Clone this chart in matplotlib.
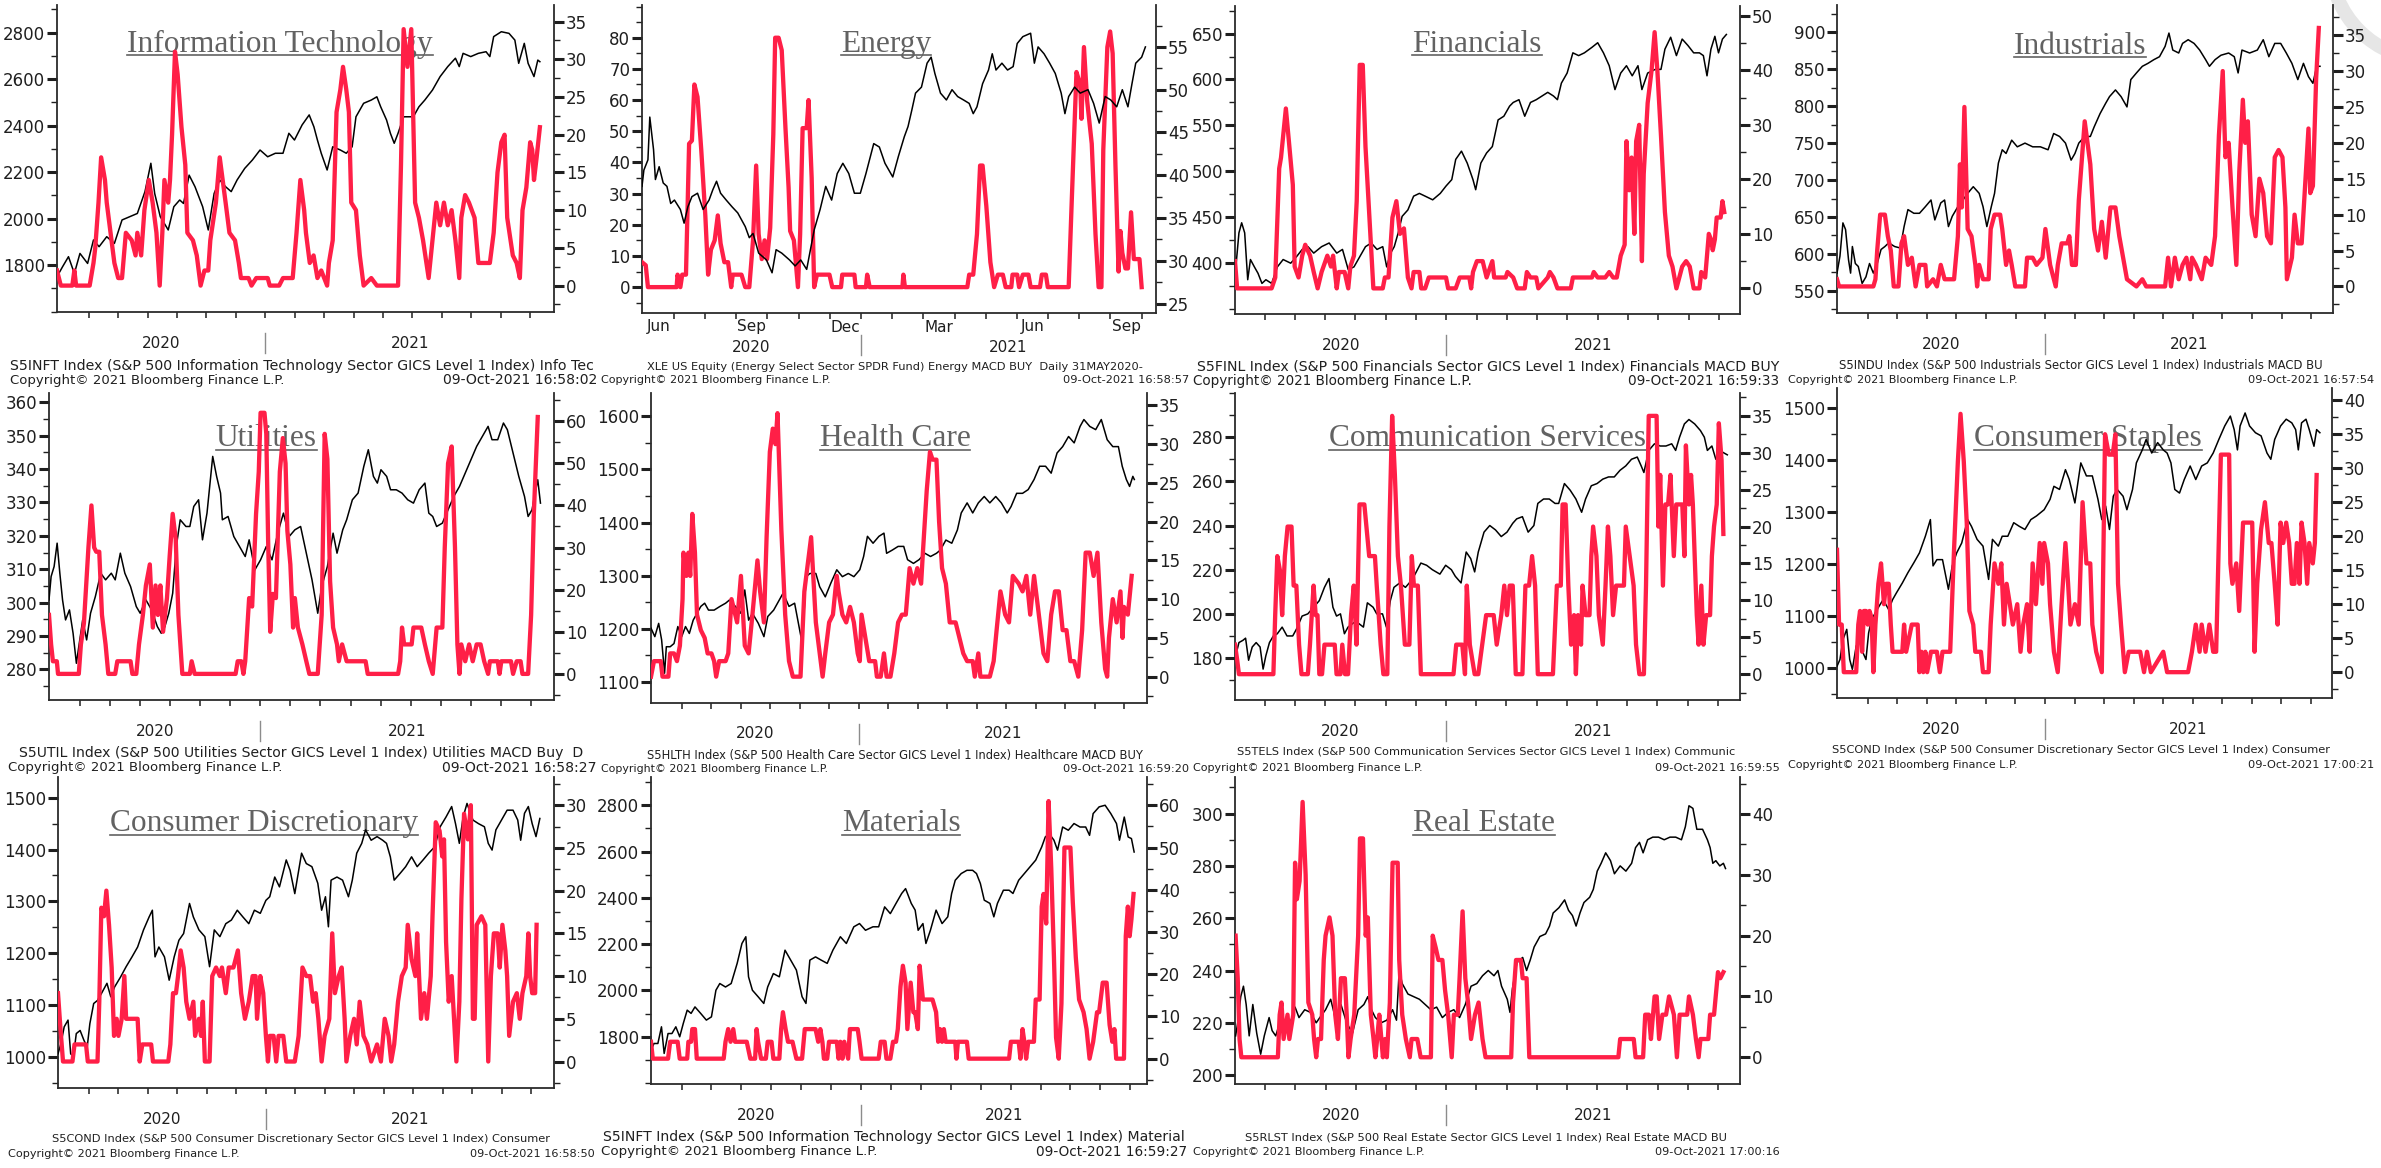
import matplotlib
matplotlib.use("Agg")
import numpy as np
import matplotlib.pyplot as plt
from matplotlib.lines import Line2D
from matplotlib.patches import Arc
from matplotlib.ticker import FixedLocator, MultipleLocator, NullFormatter

W, H = 2381, 1168
RED = "#ff1f47"
INK = "#1f1f1f"
TITLE_GREY = "#626262"
plt.rcParams["font.family"] = "DejaVu Sans"

# x values are months after 1 June 2020 (1 = Jul 2020, 7 = Jan 2021, 16 = Oct 2021)
# each series is a list of (month, value) pairs

infotech_price = [(-0.08,1750),(0.11,1793),(0.31,1836),(0.51,1764),(0.70,1850),(0.96,1807),(1.16,1908),(1.35,1879),(1.61,1922),(1.87,1893),(2.13,1994),(2.39,2008),(2.65,2022),(2.91,2116),(3.11,2238),(3.24,2108),(3.43,2008),(3.70,1951),(3.89,2051),(4.09,2080),(4.22,2065),(4.41,2187),(4.61,2137),(4.87,2051),(5.06,1951),(5.26,2108),(5.45,2166),(5.65,2137),(5.84,2116),(6.04,2166),(6.30,2216),(6.56,2252),(6.82,2295),(7.08,2266),(7.34,2281),(7.60,2281),(7.80,2367),(7.99,2338),(8.25,2403),(8.49,2446),(8.65,2395),(8.77,2338),(8.90,2281),(9.10,2209),(9.29,2309),(9.55,2295),(9.75,2281),(9.95,2309),(10.08,2438),(10.34,2496),(10.60,2510),(10.79,2524),(10.92,2481),(11.12,2424),(11.25,2367),(11.38,2324),(11.51,2367),(11.70,2438),(12.03,2438),(12.22,2481),(12.42,2510),(12.68,2553),(12.94,2611),(13.20,2654),(13.46,2690),(13.59,2654),(13.72,2711),(13.98,2697),(14.24,2711),(14.50,2718),(14.63,2697),(14.76,2783),(15.02,2804),(15.28,2797),(15.48,2768),(15.61,2668),(15.80,2754),(15.93,2668),(16.13,2611),(16.26,2682),(16.33,2675)]
infotech_macd = [(-0.08,2),(0.05,0),(0.44,0),(0.51,2),(0.57,0),(1.03,0),(1.16,3),(1.22,5),(1.33,11),(1.42,17),(1.55,14),(1.61,11),(1.74,7),(1.87,3),(2.00,1),(2.13,1),(2.26,7),(2.46,6),(2.59,4),(2.65,7),(2.78,4),(2.89,10),(3.04,14),(3.17,11),(3.30,7),(3.41,0),(3.50,7),(3.57,14),(3.70,11),(3.76,14),(3.83,20),(3.93,31),(4.02,28),(4.15,21),(4.28,16),(4.35,7),(4.54,6),(4.67,4),(4.80,0),(4.93,2),(5.06,2),(5.13,6),(5.32,11),(5.45,17),(5.65,11),(5.78,7),(5.97,6),(6.10,3),(6.17,1),(6.43,1),(6.53,0),(6.69,1),(7.08,1),(7.15,0),(7.47,0),(7.60,1),(7.93,1),(8.06,7),(8.19,14),(8.32,10),(8.38,7),(8.51,3),(8.64,4),(8.77,1),(8.90,2),(9.10,0),(9.16,3),(9.29,6),(9.42,23),(9.55,26),(9.64,29),(9.75,26),(9.84,23),(9.92,11),(10.08,10),(10.21,4),(10.34,0),(10.60,1),(10.79,0),(11.51,0),(11.61,16),(11.70,34),(11.83,29),(11.96,34),(12.09,11),(12.22,9),(12.36,6),(12.55,1),(12.68,6),(12.81,11),(12.94,8),(13.07,11),(13.20,8),(13.33,10),(13.46,6),(13.59,1),(13.66,9),(13.79,12),(13.92,11),(14.11,9),(14.24,3),(14.63,3),(14.76,7),(14.89,15),(15.02,19),(15.13,20),(15.22,9),(15.41,4),(15.54,3),(15.65,1),(15.74,10),(15.87,13),(16.00,19),(16.07,18),(16.13,14),(16.22,17),(16.33,21)]

energy_price = [(-0.02,38.7),(0.04,40.6),(0.17,41.8),(0.23,46.8),(0.29,44.9),(0.35,43.0),(0.41,39.5),(0.53,41.0),(0.66,39.1),(0.78,38.7),(0.90,36.7),(1.02,37.1),(1.21,36.0),(1.33,34.4),(1.45,36.3),(1.58,37.5),(1.76,37.9),(1.94,36.0),(2.13,37.1),(2.25,38.3),(2.37,39.3),(2.50,37.9),(2.68,37.1),(2.87,36.3),(3.05,35.6),(3.17,34.8),(3.29,34.0),(3.42,32.7),(3.54,33.2),(3.72,30.9),(3.97,30.1),(4.15,28.6),(4.28,31.3),(4.46,30.9),(4.71,30.1),(4.89,29.4),(5.07,30.1),(5.26,29.0),(5.38,31.3),(5.50,33.6),(5.69,36.0),(5.87,38.7),(6.06,37.1),(6.24,40.2),(6.42,41.4),(6.61,40.2),(6.79,37.9),(6.98,37.9),(7.16,40.2),(7.41,43.7),(7.59,43.3),(7.77,41.4),(8.02,39.8),(8.20,42.2),(8.39,44.5),(8.51,45.7),(8.63,47.6),(8.75,49.6),(8.94,50.3),(9.12,53.1),(9.25,53.8),(9.37,51.9),(9.55,49.6),(9.74,48.8),(9.92,50.0),(10.10,49.2),(10.29,48.8),(10.47,48.4),(10.60,47.2),(10.72,48.0),(10.90,50.7),(11.09,52.3),(11.21,54.2),(11.33,52.3),(11.52,53.1),(11.70,52.3),(11.88,52.7),(12.01,55.4),(12.19,56.2),(12.44,56.6),(12.56,53.1),(12.68,55.0),(12.87,54.2),(13.05,53.1),(13.23,51.9),(13.42,49.6),(13.54,47.2),(13.66,49.2),(13.85,50.3),(14.03,49.6),(14.28,50.0),(14.46,48.4),(14.64,46.1),(14.83,49.2),(15.01,48.8),(15.20,48.0),(15.38,50.0),(15.56,48.0),(15.69,50.7),(15.81,53.1),(16.00,53.8),(16.12,55.0)]
energy_macd = [(-0.02,8),(0.10,7),(0.17,0),(1.09,0),(1.12,4),(1.21,0),(1.27,4),(1.39,4),(1.49,46),(1.58,47),(1.66,65),(1.76,61),(1.88,44),(2.01,23),(2.10,4),(2.19,12),(2.31,15),(2.41,23),(2.50,14),(2.62,8),(2.74,8),(2.84,0),(2.89,4),(3.17,4),(3.29,0),(3.42,0),(3.54,15),(3.64,39),(3.72,17),(3.82,9),(3.91,15),(3.99,9),(4.09,19),(4.19,49),(4.25,80),(4.36,80),(4.46,76),(4.58,51),(4.68,32),(4.73,18),(4.85,15),(4.98,0),(5.05,17),(5.13,51),(5.26,51),(5.32,60),(5.42,35),(5.50,0),(5.59,4),(5.99,4),(6.08,0),(6.36,0),(6.40,4),(6.79,4),(6.83,0),(7.16,0),(7.20,4),(7.28,0),(8.33,0),(8.36,4),(8.41,0),(10.41,0),(10.47,4),(10.60,4),(10.72,17),(10.82,39),(10.90,39),(11.02,26),(11.15,8),(11.27,0),(11.39,4),(11.55,4),(11.64,0),(11.82,0),(11.86,4),(12.01,4),(12.07,0),(12.19,4),(12.37,4),(12.44,0),(12.74,0),(12.80,4),(12.93,4),(12.99,0),(13.66,0),(13.76,28),(13.91,69),(14.03,65),(14.07,54),(14.15,77),(14.25,60),(14.40,46),(14.52,17),(14.62,0),(14.71,0),(14.77,44),(14.90,77),(14.99,82),(15.07,75),(15.16,39),(15.26,5),(15.32,18),(15.38,11),(15.48,6),(15.56,6),(15.66,24),(15.75,9),(15.93,9),(16.00,0)]

financials_price = [(0.06,400),(0.15,433),(0.24,444),(0.34,433),(0.44,382),(0.53,404),(0.66,396),(0.78,389),(0.91,378),(1.04,382),(1.23,378),(1.42,396),(1.61,404),(1.86,400),(2.05,407),(2.24,415),(2.43,418),(2.62,411),(2.88,418),(3.13,422),(3.38,411),(3.57,415),(3.76,393),(3.95,396),(4.14,407),(4.33,418),(4.52,422),(4.71,415),(4.90,418),(5.03,396),(5.16,411),(5.28,418),(5.41,433),(5.54,451),(5.73,458),(5.92,473),(6.11,476),(6.30,473),(6.55,469),(6.80,476),(6.99,484),(7.18,491),(7.31,513),(7.50,522),(7.69,509),(7.88,491),(7.97,480),(8.14,509),(8.33,520),(8.52,527),(8.71,556),(8.90,560),(9.09,571),(9.21,575),(9.40,578),(9.59,560),(9.78,575),(9.97,578),(10.16,582),(10.35,586),(10.54,582),(10.67,578),(10.80,596),(10.99,607),(11.18,629),(11.37,626),(11.56,629),(11.81,635),(12.00,640),(12.19,629),(12.38,615),(12.57,589),(12.76,607),(12.95,615),(13.14,604),(13.33,615),(13.46,589),(13.65,607),(13.90,611),(14.09,611),(14.22,633),(14.41,646),(14.60,626),(14.79,644),(14.98,637),(15.17,629),(15.36,629),(15.49,626),(15.61,604),(15.74,633),(15.87,647),(15.99,629),(16.12,644),(16.25,649)]
financials_macd = [(0.02,5),(0.09,0),(1.23,0),(1.35,2),(1.48,22),(1.54,24),(1.70,33),(1.80,27),(1.93,19),(1.99,4),(2.12,2),(2.24,6),(2.34,8),(2.50,6),(2.62,3),(2.75,0),(2.88,3),(3.07,6),(3.19,4),(3.26,6),(3.38,0),(3.45,3),(3.64,3),(3.76,0),(3.83,4),(3.95,6),(4.04,16),(4.14,41),(4.24,41),(4.33,26),(4.46,13),(4.59,0),(4.90,0),(4.97,2),(5.09,2),(5.22,13),(5.35,16),(5.47,10),(5.60,11),(5.73,2),(5.85,0),(5.92,3),(6.11,3),(6.17,0),(6.30,0),(6.42,2),(6.99,2),(7.06,0),(7.31,0),(7.44,2),(7.76,2),(7.82,0),(7.88,3),(8.01,5),(8.20,5),(8.33,2),(8.52,5),(8.58,2),(8.96,2),(9.02,3),(9.21,2),(9.34,0),(9.59,0),(9.66,3),(9.78,2),(9.97,2),(10.04,0),(10.35,2),(10.42,3),(10.54,2),(10.67,0),(11.11,0),(11.18,2),(11.81,2),(11.87,3),(12.00,2),(12.25,2),(12.38,3),(12.51,2),(12.63,2),(12.76,6),(12.89,8),(12.95,27),(13.04,18),(13.12,24),(13.21,10),(13.27,27),(13.37,30),(13.46,5),(13.52,21),(13.65,34),(13.78,40),(13.88,47),(13.97,40),(14.09,28),(14.22,14),(14.35,6),(14.47,4),(14.60,0),(14.79,4),(14.92,5),(15.04,4),(15.17,0),(15.36,0),(15.42,3),(15.55,2),(15.67,10),(15.74,9),(15.80,7),(15.87,9),(15.93,13),(16.06,13),(16.12,16),(16.18,14)]

industrials_price = [(-0.04,574),(0.06,597),(0.16,642),(0.25,633),(0.35,592),(0.42,574),(0.48,610),(0.58,587),(0.68,583),(0.81,560),(0.94,569),(1.06,587),(1.19,574),(1.32,587),(1.45,606),(1.58,610),(1.71,615),(1.91,610),(2.10,608),(2.23,637),(2.36,660),(2.56,655),(2.75,655),(2.95,664),(3.14,673),(3.27,646),(3.47,669),(3.60,673),(3.73,637),(3.86,651),(4.05,664),(4.22,673),(4.38,682),(4.57,691),(4.77,682),(4.90,664),(5.03,637),(5.18,664),(5.29,682),(5.42,723),(5.55,741),(5.68,736),(5.87,754),(6.06,745),(6.32,750),(6.58,745),(6.84,745),(7.10,741),(7.29,763),(7.49,759),(7.69,750),(7.88,727),(8.01,736),(8.14,750),(8.34,759),(8.53,759),(8.66,772),(8.86,790),(9.05,804),(9.18,813),(9.38,822),(9.57,813),(9.77,799),(9.90,836),(10.09,845),(10.29,854),(10.48,858),(10.68,863),(10.87,867),(11.06,881),(11.19,899),(11.32,876),(11.52,872),(11.65,885),(11.84,890),(12.04,885),(12.23,876),(12.43,863),(12.56,854),(12.75,863),(12.95,869),(13.21,872),(13.40,867),(13.53,845),(13.66,876),(13.92,872),(14.18,876),(14.38,890),(14.57,867),(14.77,885),(14.97,885),(15.16,872),(15.35,858),(15.55,836),(15.74,858),(15.91,840),(16.06,831),(16.19,854),(16.30,854)]
industrials_macd = [(-0.04,1),(0.03,0),(1.19,0),(1.26,1),(1.32,5),(1.42,10),(1.58,10),(1.68,7),(1.78,5),(1.88,0),(2.04,0),(2.14,6),(2.23,7),(2.36,3),(2.49,4),(2.62,0),(2.75,3),(2.95,3),(3.01,0),(3.21,1),(3.34,0),(3.47,3),(3.60,1),(3.92,1),(4.05,7),(4.12,17),(4.18,11),(4.27,25),(4.38,8),(4.51,7),(4.64,3),(4.70,0),(4.77,3),(4.90,1),(5.09,1),(5.16,8),(5.29,10),(5.48,10),(5.55,8),(5.68,3),(5.78,5),(5.87,3),(5.99,0),(6.32,0),(6.39,4),(6.58,4),(6.71,3),(6.91,4),(7.01,8),(7.17,3),(7.36,0),(7.43,3),(7.56,6),(7.75,6),(7.82,7),(7.91,3),(8.04,3),(8.14,12),(8.34,23),(8.53,17),(8.66,8),(8.79,5),(8.92,9),(9.05,4),(9.21,11),(9.38,11),(9.51,7),(9.64,4),(9.77,1),(10.09,0),(10.29,1),(10.42,0),(11.06,0),(11.16,4),(11.26,0),(11.39,4),(11.52,1),(11.65,3),(11.78,4),(11.91,1),(11.97,4),(12.10,3),(12.30,1),(12.43,4),(12.62,3),(12.75,7),(12.88,21),(13.01,30),(13.10,18),(13.21,20),(13.34,11),(13.47,3),(13.57,16),(13.69,26),(13.77,20),(13.86,23),(13.99,10),(14.12,7),(14.25,15),(14.38,13),(14.51,7),(14.64,6),(14.77,18),(14.90,19),(15.03,18),(15.13,11),(15.18,1),(15.35,4),(15.44,10),(15.55,6),(15.68,6),(15.81,15),(15.91,22),(15.97,13),(16.06,14),(16.17,29),(16.26,36)]

utilities_price = [(-0.02,300.8),(0.05,307.8),(0.15,310.8),(0.25,317.8),(0.34,308.8),(0.43,300.8),(0.53,294.8),(0.66,297.8),(0.78,290.8),(0.89,281.8),(0.97,286.8),(1.10,294.8),(1.23,288.8),(1.36,296.8),(1.52,301.8),(1.70,308.8),(1.86,306.8),(2.05,308.8),(2.18,306.8),(2.35,314.8),(2.50,308.8),(2.69,304.8),(2.88,298.8),(3.01,296.8),(3.20,300.8),(3.39,297.8),(3.58,292.8),(3.71,290.8),(3.83,292.8),(3.96,296.8),(4.09,302.8),(4.21,316.8),(4.34,324.8),(4.53,322.8),(4.66,322.8),(4.79,328.8),(4.95,330.8),(5.08,318.8),(5.23,326.8),(5.42,343.8),(5.55,337.8),(5.68,332.8),(5.74,324.8),(5.93,325.8),(6.12,319.8),(6.31,316.8),(6.50,313.8),(6.63,318.8),(6.82,309.8),(7.01,312.8),(7.20,316.8),(7.39,312.8),(7.58,320.8),(7.77,326.8),(7.96,319.8),(8.15,321.8),(8.34,322.8),(8.53,314.8),(8.72,306.8),(8.91,296.8),(9.04,304.8),(9.23,310.8),(9.42,320.8),(9.55,314.8),(9.74,321.8),(9.87,324.8),(10.06,330.8),(10.25,332.8),(10.44,340.8),(10.59,345.8),(10.76,337.8),(10.89,335.8),(11.01,339.8),(11.20,337.8),(11.33,333.8),(11.52,333.8),(11.71,332.8),(11.90,330.8),(12.09,329.8),(12.28,333.8),(12.47,335.8),(12.60,326.8),(12.73,325.8),(12.86,322.8),(13.05,323.8),(13.24,327.8),(13.43,331.8),(13.62,334.8),(13.81,338.8),(14.00,342.8),(14.19,346.8),(14.38,349.8),(14.57,352.8),(14.70,348.8),(14.89,348.8),(15.08,353.8),(15.21,351.8),(15.40,344.8),(15.59,337.8),(15.78,331.8),(15.90,325.8),(16.03,327.8),(16.13,332.8),(16.22,336.8),(16.31,329.8)]
utilities_macd = [(-0.02,14),(0.05,7),(0.11,3),(0.24,3),(0.28,0),(0.97,0),(1.04,7),(1.14,12),(1.29,30),(1.39,40),(1.48,30),(1.55,29),(1.65,29),(1.74,14),(1.86,7),(1.95,0),(2.18,0),(2.25,3),(2.69,3),(2.75,0),(2.88,0),(2.97,7),(3.10,14),(3.20,21),(3.33,26),(3.43,11),(3.52,21),(3.60,14),(3.68,21),(3.77,10),(3.90,18),(3.99,28),(4.09,38),(4.19,32),(4.28,14),(4.41,0),(4.66,0),(4.72,3),(4.82,0),(6.18,0),(6.25,3),(6.37,3),(6.44,0),(6.50,3),(6.63,18),(6.73,16),(6.86,38),(6.95,48),(7.01,62),(7.14,62),(7.20,57),(7.26,32),(7.33,10),(7.42,19),(7.52,18),(7.65,48),(7.75,56),(7.84,50),(7.90,34),(8.00,26),(8.09,11),(8.15,18),(8.25,11),(8.40,7),(8.53,3),(8.63,0),(8.91,0),(9.04,14),(9.14,57),(9.23,51),(9.32,22),(9.42,11),(9.55,7),(9.61,3),(9.72,7),(9.87,3),(10.50,3),(10.57,0),(11.58,0),(11.65,3),(11.71,11),(11.78,7),(12.03,7),(12.09,11),(12.35,11),(12.47,7),(12.60,3),(12.73,0),(12.86,11),(13.05,11),(13.13,30),(13.24,50),(13.36,54),(13.47,30),(13.55,7),(13.62,0),(13.68,7),(13.81,3),(13.94,7),(14.06,3),(14.19,7),(14.32,7),(14.44,3),(14.57,0),(14.63,3),(14.89,3),(14.95,0),(15.01,3),(15.33,3),(15.40,0),(15.52,3),(15.65,3),(15.71,0),(15.90,0),(16.00,14),(16.09,38),(16.22,61)]

healthcare_price = [(-0.04,1201),(0.09,1185),(0.22,1210),(0.32,1179),(0.42,1116),(0.48,1166),(0.61,1166),(0.74,1172),(0.87,1204),(1.00,1185),(1.13,1204),(1.26,1191),(1.39,1216),(1.52,1229),(1.65,1242),(1.78,1248),(1.91,1235),(2.10,1235),(2.30,1242),(2.49,1248),(2.62,1254),(2.82,1242),(3.01,1229),(3.14,1273),(3.27,1216),(3.40,1229),(3.60,1210),(3.79,1185),(3.92,1223),(4.12,1235),(4.31,1254),(4.44,1267),(4.64,1242),(4.83,1248),(5.00,1198),(5.09,1172),(5.22,1298),(5.35,1304),(5.55,1304),(5.68,1279),(5.87,1260),(6.06,1286),(6.26,1311),(6.45,1298),(6.65,1304),(6.84,1298),(7.04,1311),(7.17,1336),(7.30,1374),(7.49,1361),(7.69,1374),(7.86,1380),(7.95,1342),(8.14,1348),(8.34,1355),(8.53,1355),(8.66,1330),(8.86,1323),(9.05,1330),(9.25,1342),(9.44,1336),(9.64,1342),(9.77,1348),(9.96,1367),(10.16,1361),(10.35,1386),(10.48,1418),(10.68,1437),(10.87,1418),(11.06,1437),(11.26,1449),(11.45,1437),(11.65,1449),(11.84,1437),(12.04,1418),(12.17,1430),(12.36,1455),(12.56,1455),(12.75,1462),(12.95,1481),(13.14,1506),(13.34,1506),(13.53,1493),(13.73,1531),(13.92,1543),(14.12,1562),(14.31,1550),(14.51,1581),(14.64,1594),(14.84,1581),(15.04,1575),(15.23,1594),(15.43,1556),(15.62,1543),(15.81,1543),(15.94,1506),(16.08,1481),(16.19,1468),(16.30,1487),(16.35,1481)]
healthcare_macd = [(-0.04,0),(0.06,2),(0.29,2),(0.35,0),(0.55,0),(0.61,3),(0.74,3),(0.84,2),(0.94,4),(1.03,10),(1.06,16),(1.16,13),(1.23,16),(1.29,13),(1.36,21),(1.45,16),(1.52,8),(1.65,6),(1.78,5),(1.88,3),(2.01,3),(2.10,2),(2.17,0),(2.27,2),(2.49,2),(2.58,3),(2.69,10),(2.88,7),(3.01,13),(3.14,4),(3.27,3),(3.40,8),(3.57,15),(3.66,11),(3.79,7),(3.88,18),(3.99,29),(4.09,32),(4.18,30),(4.25,34),(4.38,19),(4.51,8),(4.64,2),(4.77,0),(5.03,0),(5.16,11),(5.29,15),(5.39,18),(5.55,7),(5.68,3),(5.78,0),(5.87,3),(6.00,7),(6.13,8),(6.26,13),(6.32,11),(6.45,8),(6.58,7),(6.71,9),(6.84,7),(6.97,3),(7.04,2),(7.10,8),(7.23,5),(7.36,2),(7.56,2),(7.62,0),(7.75,0),(7.86,3),(7.95,0),(8.08,0),(8.21,3),(8.34,7),(8.47,8),(8.60,8),(8.73,14),(8.86,12),(8.99,14),(9.12,12),(9.18,16),(9.31,24),(9.42,29),(9.51,28),(9.64,28),(9.73,20),(9.83,14),(9.96,12),(10.09,7),(10.29,7),(10.42,5),(10.55,3),(10.68,2),(10.87,2),(10.94,0),(11.06,3),(11.13,0),(11.45,0),(11.58,2),(11.68,6),(11.81,11),(11.97,8),(12.10,7),(12.23,13),(12.43,12),(12.56,11),(12.69,13),(12.82,8),(12.95,13),(13.08,9),(13.27,3),(13.40,2),(13.53,8),(13.66,11),(13.79,11),(13.92,6),(14.05,6),(14.18,2),(14.31,2),(14.45,0),(14.58,6),(14.70,16),(14.84,16),(14.97,13),(15.10,16),(15.23,7),(15.36,1),(15.43,0),(15.49,5),(15.62,10),(15.75,7),(15.88,11),(15.95,5),(16.00,9),(16.13,8),(16.26,13)]

commservices_price = [(0.06,182),(0.15,187),(0.28,188),(0.37,189),(0.47,179),(0.59,185),(0.72,187),(0.85,185),(0.95,175),(1.04,181),(1.16,187),(1.29,190),(1.42,191),(1.58,194),(1.74,190),(1.93,190),(2.05,193),(2.24,199),(2.43,200),(2.62,203),(2.81,206),(2.98,212),(3.13,216),(3.26,203),(3.38,199),(3.51,200),(3.64,191),(3.76,194),(3.95,196),(4.08,196),(4.27,194),(4.40,205),(4.59,203),(4.71,200),(4.90,200),(5.03,194),(5.16,206),(5.28,212),(5.47,214),(5.66,212),(5.85,215),(5.98,218),(6.17,223),(6.36,222),(6.55,220),(6.80,218),(6.99,222),(7.18,220),(7.31,217),(7.50,214),(7.67,228),(7.82,225),(7.95,219),(8.07,228),(8.26,237),(8.45,240),(8.64,238),(8.83,235),(9.02,237),(9.21,241),(9.34,243),(9.53,244),(9.72,237),(9.91,240),(10.04,250),(10.23,252),(10.42,252),(10.61,250),(10.73,250),(10.92,259),(11.11,256),(11.30,252),(11.49,246),(11.62,252),(11.81,258),(12.00,259),(12.19,261),(12.38,262),(12.57,262),(12.76,265),(12.95,267),(13.14,270),(13.33,271),(13.46,267),(13.55,264),(13.71,274),(13.90,277),(14.09,276),(14.28,276),(14.47,277),(14.60,274),(14.73,280),(14.89,286),(15.04,288),(15.23,286),(15.42,283),(15.55,280),(15.65,274),(15.80,276),(15.93,270),(16.06,274),(16.18,273),(16.31,272)]
commservices_macd = [(0.02,4),(0.09,2),(0.15,0),(1.29,0),(1.35,8),(1.42,16),(1.51,14),(1.58,8),(1.67,16),(1.76,20),(1.89,20),(1.96,12),(2.05,12),(2.14,4),(2.22,0),(2.43,0),(2.50,4),(2.56,8),(2.62,12),(2.69,8),(2.75,8),(2.81,0),(2.90,0),(2.98,4),(3.32,4),(3.38,0),(3.51,0),(3.57,4),(3.66,0),(3.76,0),(3.86,8),(3.95,12),(4.04,4),(4.14,23),(4.30,23),(4.37,20),(4.46,16),(4.65,16),(4.71,12),(4.84,4),(4.93,0),(5.06,0),(5.13,20),(5.22,35),(5.31,27),(5.41,16),(5.51,12),(5.64,4),(5.79,4),(5.87,16),(5.94,12),(6.07,12),(6.17,0),(7.25,0),(7.34,4),(7.54,4),(7.63,0),(7.69,12),(7.79,4),(7.95,0),(8.07,0),(8.20,4),(8.33,8),(8.58,8),(8.68,4),(8.83,8),(8.93,12),(9.02,8),(9.11,12),(9.21,12),(9.31,0),(9.53,0),(9.63,12),(9.75,12),(9.85,16),(9.95,12),(10.04,0),(10.54,0),(10.67,12),(10.80,12),(10.86,23),(10.96,23),(11.05,12),(11.14,4),(11.24,8),(11.30,0),(11.37,8),(11.47,4),(11.52,12),(11.62,8),(11.75,8),(11.81,16),(11.87,20),(11.98,16),(12.06,8),(12.19,4),(12.28,12),(12.36,20),(12.44,16),(12.53,8),(12.63,12),(12.89,12),(12.95,20),(13.08,16),(13.21,12),(13.29,4),(13.40,0),(13.55,0),(13.62,12),(13.71,35),(13.97,35),(14.03,20),(14.09,27),(14.18,12),(14.26,23),(14.35,23),(14.43,27),(14.54,16),(14.62,23),(14.73,23),(14.82,23),(14.89,16),(14.94,31),(15.04,23),(15.11,27),(15.17,23),(15.30,8),(15.36,4),(15.45,12),(15.52,4),(15.61,8),(15.74,8),(15.80,16),(15.87,20),(15.96,23),(16.03,34),(16.12,29),(16.18,19)]

staples_price = [(-0.04,1003),(0.06,1016),(0.16,1054),(0.29,1074),(0.39,1016),(0.48,997),(0.61,1042),(0.74,1054),(0.84,1029),(0.94,1016),(1.03,1067),(1.13,1093),(1.26,1106),(1.39,1119),(1.52,1131),(1.71,1112),(1.84,1131),(1.97,1144),(2.17,1163),(2.36,1183),(2.56,1202),(2.75,1221),(2.95,1253),(3.12,1285),(3.21,1196),(3.34,1208),(3.53,1208),(3.73,1151),(3.86,1196),(4.01,1221),(4.18,1240),(4.38,1285),(4.51,1272),(4.70,1247),(4.90,1234),(5.09,1170),(5.22,1247),(5.42,1234),(5.55,1253),(5.74,1253),(5.94,1279),(6.13,1272),(6.32,1266),(6.52,1285),(6.71,1292),(6.97,1304),(7.17,1324),(7.30,1349),(7.49,1343),(7.69,1381),(7.82,1362),(8.01,1317),(8.21,1394),(8.40,1369),(8.60,1369),(8.79,1324),(8.92,1285),(9.05,1311),(9.18,1266),(9.31,1330),(9.44,1343),(9.64,1330),(9.77,1304),(9.96,1343),(10.09,1394),(10.29,1419),(10.42,1439),(10.61,1413),(10.81,1433),(11.00,1419),(11.13,1413),(11.26,1394),(11.39,1343),(11.55,1336),(11.71,1362),(11.91,1388),(12.10,1362),(12.30,1388),(12.49,1394),(12.69,1413),(12.88,1439),(13.08,1465),(13.27,1484),(13.40,1458),(13.51,1419),(13.60,1465),(13.77,1490),(13.92,1465),(14.12,1452),(14.31,1446),(14.51,1413),(14.64,1401),(14.77,1439),(14.97,1465),(15.16,1478),(15.35,1471),(15.48,1458),(15.57,1419),(15.68,1471),(15.83,1478),(15.94,1458),(16.10,1426),(16.19,1458),(16.30,1452)]
staples_macd = [(-0.04,18),(0.03,7),(0.12,7),(0.19,0),(0.61,0),(0.68,7),(0.74,9),(0.81,3),(0.87,9),(0.94,9),(1.00,7),(1.06,9),(1.13,8),(1.19,0),(1.26,7),(1.36,13),(1.45,16),(1.55,10),(1.62,13),(1.71,13),(1.78,7),(1.84,3),(2.17,3),(2.23,7),(2.30,3),(2.49,7),(2.69,7),(2.75,0),(2.82,3),(2.88,0),(2.95,3),(3.01,0),(3.14,3),(3.34,3),(3.44,0),(3.53,3),(3.79,3),(3.92,18),(4.05,31),(4.14,38),(4.25,31),(4.35,22),(4.44,9),(4.57,7),(4.64,3),(4.83,3),(4.90,0),(5.09,0),(5.16,7),(5.29,16),(5.42,13),(5.52,16),(5.61,7),(5.70,13),(5.81,10),(5.91,7),(6.06,10),(6.17,3),(6.26,7),(6.39,10),(6.48,3),(6.58,16),(6.69,10),(6.82,19),(6.91,13),(6.97,19),(7.10,16),(7.17,10),(7.30,3),(7.43,0),(7.56,10),(7.69,19),(7.78,13),(7.86,7),(8.01,10),(8.14,7),(8.27,25),(8.40,16),(8.53,16),(8.60,7),(8.73,3),(8.92,0),(9.03,35),(9.16,32),(9.29,32),(9.38,35),(9.47,13),(9.57,7),(9.70,0),(9.83,3),(10.22,3),(10.35,0),(10.45,3),(10.58,0),(11.00,3),(11.13,0),(11.84,0),(11.97,3),(12.10,7),(12.23,3),(12.30,7),(12.43,3),(12.56,7),(12.69,3),(12.79,3),(12.88,19),(12.95,32),(13.23,32),(13.27,16),(13.34,13),(13.47,16),(13.57,9),(13.70,22),(13.86,22),(14.01,22),(14.09,3),(14.18,13),(14.31,21),(14.44,25),(14.57,19),(14.66,19),(14.77,13),(14.87,7),(14.97,22),(15.06,19),(15.16,22),(15.26,19),(15.35,13),(15.44,13),(15.52,19),(15.61,13),(15.68,22),(15.78,19),(15.87,13),(15.94,19),(16.06,16),(16.13,19),(16.19,29)]

discretionary_price = [(-0.04,1006),(0.06,1026),(0.17,1058),(0.30,1071),(0.39,1006),(0.48,1000),(0.58,1045),(0.71,1051),(0.84,1032),(0.95,1019),(1.04,1064),(1.17,1103),(1.30,1109),(1.43,1122),(1.62,1142),(1.75,1116),(1.88,1135),(2.08,1154),(2.27,1174),(2.47,1193),(2.66,1212),(2.86,1245),(3.05,1270),(3.16,1283),(3.25,1193),(3.38,1212),(3.57,1193),(3.73,1148),(3.90,1193),(4.06,1225),(4.22,1238),(4.42,1296),(4.55,1270),(4.74,1245),(4.94,1232),(5.10,1174),(5.26,1245),(5.45,1232),(5.65,1257),(5.84,1264),(6.04,1283),(6.23,1270),(6.43,1257),(6.62,1283),(6.82,1277),(7.01,1302),(7.14,1309),(7.31,1347),(7.47,1328),(7.70,1380),(7.83,1360),(7.99,1315),(8.22,1393),(8.38,1373),(8.57,1367),(8.77,1335),(8.90,1283),(9.03,1309),(9.13,1251),(9.22,1341),(9.42,1347),(9.61,1341),(9.81,1309),(9.94,1341),(10.09,1393),(10.26,1412),(10.39,1438),(10.58,1418),(10.78,1425),(10.97,1418),(11.10,1412),(11.23,1386),(11.36,1341),(11.56,1354),(11.75,1367),(11.95,1386),(12.14,1367),(12.34,1380),(12.53,1393),(12.73,1405),(12.92,1444),(13.12,1463),(13.31,1483),(13.44,1450),(13.57,1412),(13.70,1463),(13.83,1489),(14.03,1457),(14.22,1450),(14.42,1444),(14.55,1412),(14.68,1399),(14.81,1438),(15.00,1457),(15.19,1476),(15.39,1476),(15.55,1457),(15.65,1418),(15.78,1470),(15.91,1483),(16.04,1450),(16.17,1425),(16.30,1460)]
discretionary_macd = [(-0.04,8),(0.04,4),(0.13,0),(0.45,0),(0.52,2),(0.91,2),(0.97,0),(1.30,0),(1.36,7),(1.43,18),(1.52,17),(1.60,20),(1.69,16),(1.78,11),(1.86,3),(1.95,5),(2.01,3),(2.12,5),(2.21,10),(2.27,5),(2.40,5),(2.66,5),(2.73,0),(2.82,2),(3.12,2),(3.18,0),(3.70,0),(3.77,2),(3.86,8),(3.96,8),(4.03,10),(4.12,13),(4.22,11),(4.31,7),(4.42,5),(4.55,7),(4.61,3),(4.74,5),(4.81,3),(4.87,7),(4.94,0),(5.10,0),(5.19,10),(5.32,11),(5.45,10),(5.52,11),(5.65,8),(5.75,11),(5.91,11),(6.06,13),(6.17,8),(6.30,5),(6.43,7),(6.56,10),(6.66,10),(6.71,5),(6.82,10),(6.92,8),(7.01,3),(7.08,0),(7.14,3),(7.27,3),(7.36,0),(7.44,3),(7.60,3),(7.70,0),(7.99,0),(8.12,3),(8.25,11),(8.38,10),(8.51,10),(8.61,7),(8.70,8),(8.79,5),(8.90,0),(9.00,3),(9.16,5),(9.26,15),(9.35,8),(9.48,10),(9.58,11),(9.68,5),(9.74,0),(9.87,3),(10.00,5),(10.09,2),(10.19,7),(10.32,3),(10.45,2),(10.58,0),(10.78,2),(10.91,0),(11.04,5),(11.17,3),(11.26,0),(11.36,2),(11.49,7),(11.62,10),(11.75,11),(11.82,16),(11.95,12),(12.08,10),(12.14,15),(12.27,5),(12.38,8),(12.47,5),(12.60,10),(12.66,17),(12.77,28),(12.90,27),(12.99,24),(13.05,26),(13.12,14),(13.21,7),(13.31,10),(13.47,0),(13.57,7),(13.64,19),(13.73,29),(13.86,26),(13.96,30),(14.03,5),(14.09,5),(14.16,16),(14.32,17),(14.45,16),(14.55,0),(14.64,10),(14.74,15),(14.87,15),(14.94,11),(15.03,16),(15.13,13),(15.19,10),(15.26,3),(15.39,7),(15.52,8),(15.62,5),(15.71,8),(15.84,10),(15.91,15),(15.97,10),(16.04,8),(16.14,8),(16.19,16)]

materials_price = [(-0.02,1742),(0.08,1771),(0.21,1771),(0.33,1843),(0.42,1728),(0.55,1814),(0.68,1814),(0.81,1843),(0.94,1800),(1.06,1858),(1.19,1915),(1.32,1901),(1.45,1929),(1.64,1901),(1.83,1872),(2.00,1886),(2.15,2001),(2.28,2030),(2.47,2015),(2.66,2030),(2.86,2117),(3.02,2203),(3.15,2232),(3.24,2059),(3.37,2001),(3.56,1973),(3.75,1944),(3.88,2015),(4.07,2073),(4.27,2059),(4.46,2174),(4.65,2131),(4.84,2088),(5.03,1973),(5.16,1944),(5.29,2131),(5.48,2145),(5.67,2131),(5.87,2117),(6.06,2174),(6.31,2232),(6.51,2203),(6.76,2275),(6.95,2289),(7.15,2260),(7.40,2275),(7.59,2275),(7.79,2361),(7.98,2332),(8.17,2376),(8.36,2419),(8.49,2440),(8.68,2376),(8.81,2347),(8.91,2260),(9.07,2289),(9.17,2203),(9.32,2260),(9.51,2347),(9.71,2289),(9.90,2318),(10.03,2419),(10.15,2476),(10.35,2505),(10.54,2519),(10.73,2519),(10.86,2505),(10.99,2462),(11.12,2390),(11.31,2376),(11.44,2318),(11.56,2376),(11.76,2433),(11.95,2433),(12.08,2419),(12.27,2476),(12.46,2505),(12.65,2534),(12.84,2563),(13.04,2620),(13.16,2663),(13.29,2677),(13.45,2649),(13.57,2606),(13.74,2706),(13.93,2692),(14.12,2721),(14.32,2706),(14.51,2706),(14.64,2670),(14.76,2764),(14.96,2793),(15.16,2800),(15.35,2764),(15.54,2721),(15.64,2649),(15.80,2749),(15.93,2663),(16.04,2656),(16.13,2598)]
materials_macd = [(-0.02,4),(0.04,0),(0.55,0),(0.62,4),(0.87,4),(0.94,0),(1.19,0),(1.23,4),(1.32,4),(1.36,7),(1.45,7),(1.51,0),(2.41,0),(2.47,4),(2.56,7),(2.64,4),(2.73,7),(2.79,4),(3.18,4),(3.30,0),(3.46,0),(3.51,7),(3.56,4),(3.66,0),(3.82,0),(3.88,4),(4.01,4),(4.07,0),(4.27,0),(4.33,7),(4.39,11),(4.48,7),(4.56,4),(4.71,4),(4.84,0),(5.03,0),(5.12,7),(5.48,7),(5.57,4),(5.64,7),(5.71,4),(5.76,0),(5.87,0),(5.93,4),(6.19,4),(6.25,0),(6.31,4),(6.38,0),(6.44,4),(6.57,0),(6.63,7),(6.89,7),(6.95,4),(7.02,0),(7.59,0),(7.66,4),(7.79,4),(7.85,0),(7.98,0),(8.07,4),(8.17,4),(8.23,7),(8.32,17),(8.40,22),(8.49,18),(8.55,7),(8.66,18),(8.75,11),(8.81,11),(8.90,7),(8.96,22),(9.07,14),(9.19,14),(9.39,14),(9.51,11),(9.58,4),(9.64,7),(9.71,4),(9.77,7),(9.83,4),(10.15,4),(10.19,0),(10.24,4),(10.54,4),(10.60,0),(11.95,0),(12.01,4),(12.27,4),(12.33,0),(12.40,7),(12.46,4),(12.52,0),(12.59,4),(12.78,4),(12.84,14),(12.97,14),(13.04,36),(13.10,39),(13.19,32),(13.27,61),(13.36,45),(13.45,24),(13.52,5),(13.61,0),(13.70,13),(13.80,50),(14.00,50),(14.08,37),(14.18,24),(14.29,14),(14.44,11),(14.54,7),(14.64,0),(14.76,4),(14.89,11),(14.96,11),(15.08,18),(15.21,18),(15.31,8),(15.40,4),(15.47,7),(15.53,0),(15.79,0),(15.85,29),(15.92,36),(15.98,29),(16.04,33),(16.11,39)]

realestate_price = [(0.02,215),(0.09,220),(0.19,230),(0.28,234),(0.37,227),(0.47,215),(0.59,227),(0.72,216),(0.85,208),(0.97,215),(1.13,222),(1.23,217),(1.35,215),(1.48,220),(1.67,220),(1.86,221),(1.99,226),(2.12,222),(2.31,225),(2.50,224),(2.69,220),(2.81,222),(3.00,225),(3.17,229),(3.32,222),(3.51,227),(3.70,220),(3.89,216),(4.08,225),(4.27,227),(4.40,230),(4.52,225),(4.65,222),(4.84,220),(5.03,221),(5.22,225),(5.35,221),(5.44,240),(5.54,235),(5.73,231),(5.92,230),(6.11,229),(6.30,227),(6.49,225),(6.68,226),(6.87,222),(7.06,224),(7.25,225),(7.44,222),(7.63,227),(7.82,234),(8.01,235),(8.20,238),(8.39,240),(8.58,238),(8.71,240),(8.83,234),(9.02,229),(9.11,224),(9.19,233),(9.34,243),(9.53,245),(9.66,240),(9.78,244),(9.91,249),(10.10,253),(10.29,254),(10.42,257),(10.54,262),(10.73,264),(10.92,267),(11.05,263),(11.18,261),(11.30,257),(11.43,262),(11.56,266),(11.75,268),(11.87,271),(12.00,278),(12.13,281),(12.28,285),(12.44,282),(12.57,277),(12.76,280),(12.95,278),(13.14,281),(13.27,287),(13.40,289),(13.52,285),(13.67,290),(13.84,291),(14.03,291),(14.22,290),(14.41,291),(14.60,291),(14.79,290),(14.92,295),(15.04,303),(15.17,302),(15.30,294),(15.49,294),(15.65,290),(15.74,287),(15.83,281),(15.93,282),(16.06,280),(16.18,281),(16.25,279)]
realestate_macd = [(0.02,20),(0.09,13),(0.15,3),(0.21,0),(1.42,0),(1.48,7),(1.54,9),(1.61,3),(1.74,7),(1.80,3),(1.93,7),(1.99,32),(2.05,26),(2.14,29),(2.24,42),(2.34,30),(2.43,9),(2.56,7),(2.62,3),(2.69,0),(2.75,3),(2.85,3),(2.94,16),(3.00,20),(3.13,23),(3.23,20),(3.32,7),(3.41,3),(3.51,13),(3.64,13),(3.70,7),(3.76,0),(3.83,3),(3.95,7),(4.08,20),(4.14,36),(4.24,36),(4.33,20),(4.40,23),(4.50,7),(4.59,3),(4.65,0),(4.71,3),(4.78,7),(4.90,0),(4.97,3),(5.03,0),(5.13,9),(5.22,32),(5.39,32),(5.44,16),(5.54,7),(5.66,3),(5.79,0),(5.85,3),(6.04,3),(6.15,0),(6.49,0),(6.55,20),(6.65,18),(6.74,16),(6.87,16),(6.96,11),(7.06,7),(7.18,0),(7.25,7),(7.38,7),(7.44,13),(7.54,24),(7.63,13),(7.72,9),(7.82,3),(7.95,7),(8.07,9),(8.20,3),(8.30,0),(9.15,0),(9.21,9),(9.31,16),(9.47,16),(9.53,13),(9.66,13),(9.75,0),(12.70,0),(12.76,3),(13.21,3),(13.27,0),(13.52,0),(13.59,7),(13.71,7),(13.78,3),(13.90,10),(13.97,10),(14.05,3),(14.16,7),(14.28,7),(14.38,10),(14.54,7),(14.64,0),(14.73,7),(14.98,7),(15.04,10),(15.17,7),(15.27,3),(15.36,0),(15.42,3),(15.68,3),(15.74,7),(15.87,7),(16.00,14),(16.08,13),(16.18,14)]

COPY = "Copyright\u00a9 2021 Bloomberg Finance L.P."
energy_months = ["Jun", "Sep", "Dec", "Mar", "Jun", "Sep"]
years = ["2020", "2021"]

PANELS = [
    dict(title="Information Technology", box=(57, 5, 554, 312), xlim=(-0.08, 16.81),
         price=infotech_price, macd=infotech_macd, price_left=True,
         lim_l=(1598, 2919), maj_l=range(1800, 2801, 200), min_l=100,
         lim_r=(-3.5, 37.2), maj_r=range(0, 36, 5), min_r=2.5, title_xy=(280, 52, 55),
         foot=("S5INFT Index (S&P 500 Information Technology Sector GICS Level 1 Index) Info Tec", 10, 595),
         copy=(10, 285), date=("09-Oct-2021 16:58:02", 443, 597), fy=(366, 380)),
    dict(title="Energy", box=(642, 5, 1156, 313), xlim=(-0.02, 16.46),
         price=energy_price, macd=energy_macd, price_left=False,
         lim_l=(-8.3, 90.5), maj_l=range(0, 81, 10), min_l=5,
         lim_r=(23.9, 59.9), maj_r=range(25, 56, 5), min_r=2.5, title_xy=(886, 52, 55),
         foot=("XLE US Equity (Energy Select Sector SPDR Fund) Energy MACD BUY  Daily 31MAY2020-", 647, 1143),
         copy=(601, 831), date=("09-Oct-2021 16:58:57", 1063, 1189), fy=(367, 380)),
    dict(title="Financials", box=(1235, 6, 1740, 314), xlim=(0.02, 16.7),
         price=financials_price, macd=financials_macd, price_left=True,
         lim_l=(344.7, 680), maj_l=range(400, 651, 50), min_l=25,
         lim_r=(-4.7, 51.8), maj_r=range(0, 51, 10), min_r=5, title_xy=(1477, 52, 55),
         foot=("S5FINL Index (S&P 500 Financials Sector GICS Level 1 Index) Financials MACD BUY", 1197, 1778),
         copy=(1193, 1471), date=("09-Oct-2021 16:59:33", 1628, 1780), fy=(367, 381)),
    dict(title="Industrials", box=(1837, 5, 2333, 313), xlim=(-0.04, 16.74),
         price=industrials_price, macd=industrials_macd, price_left=True,
         lim_l=(520, 937), maj_l=range(550, 901, 50), min_l=25,
         lim_r=(-3.7, 39.2), maj_r=range(0, 36, 5), min_r=2.5, title_xy=(2080, 54, 57),
         foot=("S5INDU Index (S&P 500 Industrials Sector GICS Level 1 Index) Industrials MACD BU", 1839, 2322),
         copy=(1788, 2018), date=("09-Oct-2021 16:57:54", 2248, 2374), fy=(365, 380)),
    dict(title="Utilities", box=(49, 393, 554, 700), xlim=(-0.02, 16.76),
         price=utilities_price, macd=utilities_macd, price_left=True,
         lim_l=(270.8, 362.8), maj_l=range(280, 361, 10), min_l=5,
         lim_r=(-6.2, 66.7), maj_r=range(0, 61, 10), min_r=5, title_xy=(266, 446, 450),
         foot=("S5UTIL Index (S&P 500 Utilities Sector GICS Level 1 Index) Utilities MACD Buy  D", 19, 586),
         copy=(8, 281), date=("09-Oct-2021 16:58:27", 442, 597), fy=(753, 768)),
    dict(title="Health Care", box=(651, 393, 1147, 703), xlim=(-0.04, 16.78),
         price=healthcare_price, macd=healthcare_macd, price_left=True,
         lim_l=(1060, 1644), maj_l=range(1100, 1601, 100), min_l=50,
         lim_r=(-3.4, 36.6), maj_r=range(0, 36, 5), min_r=2.5, title_xy=(895, 446, 450),
         foot=("S5HLTH Index (S&P 500 Health Care Sector GICS Level 1 Index) Healthcare MACD BUY", 647, 1141),
         copy=(601, 827), date=("09-Oct-2021 16:59:20", 1063, 1189), fy=(755, 769)),
    dict(title="Communication Services", box=(1235, 393, 1740, 700), xlim=(0.02, 16.73),
         price=commservices_price, macd=commservices_macd, price_left=True,
         lim_l=(161, 300), maj_l=range(180, 281, 20), min_l=10,
         lim_r=(-3.5, 38.1), maj_r=range(0, 36, 5), min_r=2.5, title_xy=(1487, 446, 450),
         foot=("S5TELS Index (S&P 500 Communication Services Sector GICS Level 1 Index) Communic", 1237, 1738),
         copy=(1193, 1423), date=("09-Oct-2021 16:59:55", 1655, 1780), fy=(752, 768)),
    dict(title="Consumer Staples", box=(1837, 388, 2332, 698), xlim=(-0.04, 16.71),
         price=staples_price, macd=staples_macd, price_left=True,
         lim_l=(942, 1538), maj_l=range(1000, 1501, 100), min_l=50,
         lim_r=(-3.8, 41.8), maj_r=range(0, 41, 5), min_r=2.5, title_xy=(2088, 446, 450),
         foot=("S5COND Index (S&P 500 Consumer Discretionary Sector GICS Level 1 Index) Consumer", 1832, 2329),
         copy=(1788, 2018), date=("09-Oct-2021 17:00:21", 2248, 2374), fy=(750, 765)),
    dict(title="Consumer Discretionary", box=(58, 777, 554, 1088), xlim=(-0.04, 16.78),
         price=discretionary_price, macd=discretionary_macd, price_left=True,
         lim_l=(940, 1540), maj_l=range(1000, 1501, 100), min_l=50,
         lim_r=(-3.1, 33.3), maj_r=range(0, 31, 5), min_r=2.5, title_xy=(264, 831, 835),
         foot=("S5COND Index (S&P 500 Consumer Discretionary Sector GICS Level 1 Index) Consumer", 52, 550),
         copy=(8, 239), date=("09-Oct-2021 16:58:50", 470, 595), fy=(1139, 1154)),
    dict(title="Materials", box=(651, 777, 1147, 1084), xlim=(-0.02, 16.56),
         price=materials_price, macd=materials_macd, price_left=True,
         lim_l=(1596, 2922), maj_l=range(1800, 2801, 200), min_l=100,
         lim_r=(-6, 66.7), maj_r=range(0, 61, 10), min_r=5, title_xy=(901, 831, 835),
         foot=("S5INFT Index (S&P 500 Information Technology Sector GICS Level 1 Index) Material", 603, 1186),
         copy=(601, 877), date=("09-Oct-2021 16:59:27", 1036, 1188), fy=(1137, 1152)),
    dict(title="Real Estate", box=(1235, 777, 1740, 1084), xlim=(0.0, 16.73),
         price=realestate_price, macd=realestate_macd, price_left=True,
         lim_l=(196.6, 314), maj_l=range(200, 301, 20), min_l=10,
         lim_r=(-4.4, 46.1), maj_r=range(0, 41, 10), min_r=5, title_xy=(1484, 831, 835),
         foot=("S5RLST Index (S&P 500 Real Estate Sector GICS Level 1 Index) Real Estate MACD BU", 1245, 1731),
         copy=(1193, 1425), date=("09-Oct-2021 17:00:16", 1655, 1779), fy=(1137, 1152)),
]

fig = plt.figure(figsize=(W / 100, H / 100), dpi=100, facecolor="white")
renderer = fig.canvas.get_renderer()


def fx(x):
    return x / W


def fy_(y):
    return 1 - y / H


def fit_text(s, x0, x1, y):
    # footer strings are squeezed to the width they take in the screenshot
    t = fig.text(fx(x0), fy_(y), s, fontsize=10, color=INK, va="center", ha="left")
    size = 10.0
    for _ in range(3):
        w = t.get_window_extent(renderer).width
        size *= (x1 - x0) / w
        t.set_fontsize(size)
    return t


def style_y(a, lim, major, minor, size):
    a.set_ylim(*lim)
    a.yaxis.set_major_locator(FixedLocator(list(major)))
    a.yaxis.set_minor_locator(MultipleLocator(minor))
    a.tick_params(axis="y", which="major", direction="out", length=7, width=2.2,
                  colors=INK, labelsize=size, pad=1.5)
    a.tick_params(axis="y", which="minor", direction="out", length=4, width=1, colors=INK)


for p in PANELS:
    x0, y0, x1, y1 = p["box"]
    ax = fig.add_axes([fx(x0), fy_(y1), fx(x1 - x0), (y1 - y0) / H])
    ax2 = ax.twinx()
    ax.patch.set_visible(False)
    ax2.patch.set_visible(False)
    for s in ("top", "right"):
        ax.spines[s].set_visible(False)
    for s in ("top", "left", "bottom"):
        ax2.spines[s].set_visible(False)
    for a in (ax, ax2):
        for s in a.spines.values():
            s.set_color("#2b2b2b")
            s.set_linewidth(1.3)
    ax.set_xlim(*p["xlim"])
    ax.set_xticks(range(1, 17))
    ax.xaxis.set_major_formatter(NullFormatter())
    ax.tick_params(axis="x", direction="out", length=4.5, width=1.1, colors=INK)

    price_ax, macd_ax = (ax, ax2) if p["price_left"] else (ax2, ax)
    px, pv = zip(*p["price"])
    mx, mv = zip(*p["macd"])
    price_ax.plot(px, pv, color="black", lw=1.1, zorder=3)
    macd_ax.plot(mx, mv, color=RED, lw=3.1, zorder=3, solid_joinstyle="round")

    style_y(ax, p["lim_l"], p["maj_l"], p["min_l"], 12)
    style_y(ax2, p["lim_r"], p["maj_r"], p["min_r"], 12)

    # year labels and the separator at 1 Jan 2021
    lo, hi = p["xlim"]
    to_px = lambda m: x0 + (m - lo) / (hi - lo) * (x1 - x0)
    jan = to_px(7)
    if p["title"] == "Energy":
        for k, lab in enumerate(energy_months):
            fig.text(fx(to_px(0.5 + 3 * k)), fy_(y1 + 14), lab, fontsize=11, color=INK,
                     ha="center", va="center")
        ydy, sep = 34, (22, 42)
    else:
        ydy, sep = 31, (21, 41)
    fig.text(fx((x0 + jan) / 2), fy_(y1 + ydy), years[0], fontsize=11, color=INK,
             ha="center", va="center")
    fig.text(fx((jan + x1) / 2), fy_(y1 + ydy), years[1], fontsize=11, color=INK,
             ha="center", va="center")
    fig.add_artist(Line2D([fx(jan), fx(jan)], [fy_(y1 + sep[0]), fy_(y1 + sep[1])],
                          color="#8c8c8c", lw=1.0))

    # underlined serif title sitting behind the lines
    cx, base, ul = p["title_xy"]
    t = fig.text(fx(cx), fy_(base), p["title"], fontsize=22.6, family="Liberation Serif",
                 color=TITLE_GREY, ha="center", va="baseline", zorder=-1)
    bb = t.get_window_extent(renderer)
    fig.add_artist(Line2D([bb.x0 / W, bb.x1 / W], [fy_(ul), fy_(ul)], color=TITLE_GREY,
                          lw=1.2, zorder=-1))

    # footer lines
    s, a0, a1 = p["foot"]
    fit_text(s, a0, a1, p["fy"][0])
    fit_text(COPY, p["copy"][0], p["copy"][1], p["fy"][1])
    d, d0, d1 = p["date"]
    fit_text(d, d0, d1, p["fy"][1])

# page curl in the top right corner
fig.add_artist(Arc((fx(2430), fy_(-40)), 200 / W, 200 / H, transform=fig.transFigure,
                   color="#e6e6e6", lw=10, zorder=-2))

fig.savefig("out.png", dpi=100, facecolor="white")
